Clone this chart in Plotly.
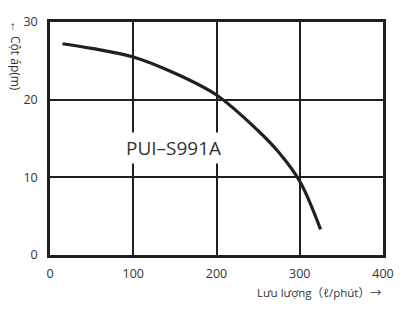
import plotly.graph_objects as go

flow = [15, 50, 100, 150, 200, 250, 275, 300, 325]
head = [27.2, 26.6, 25.5, 23.4, 20.6, 16.0, 13.2, 9.5, 3.3]
x_ticks = [0, 100, 200, 300, 400]
y_ticks = [0, 10, 20, 30]
model = "PUI–S991A"
x_title = "Lưu lượng（ℓ/phút）→"
y_title = "← Cột áp(m)"

ink = "#231f20"
W, H = 415, 312
L, R, T, B = 50, 32, 22, 56.5
pw, ph = W - L - R, H - T - B

fig = go.Figure()
fig.add_trace(go.Scatter(x=flow, y=head, mode="lines",
                         line=dict(color=ink, width=3.2, shape="spline", smoothing=1.0),
                         hoverinfo="skip", showlegend=False))

fig.add_annotation(x=148, y=13.8, xref="x", yref="y", text=model, showarrow=False,
                   xanchor="center", yanchor="middle",
                   font=dict(family="Open Sans", size=19, color="#333333"),
                   bgcolor="white", borderpad=2)
fig.add_annotation(xref="paper", x=(384 - L) / pw, yref="paper", y=-(293 - (H - B)) / ph,
                   text=x_title, showarrow=False, xanchor="right", yanchor="middle",
                   font=dict(family="Open Sans, Noto Sans CJK JP", size=11.5, color="#333333"))
fig.add_annotation(xref="paper", x=(15 - L) / pw, yref="paper", y=((H - B) - 56) / ph,
                   text=y_title, showarrow=False, textangle=90, xanchor="center", yanchor="middle",
                   font=dict(family="Open Sans", size=12, color="#333333"))

fig.update_layout(
    width=W, height=H,
    margin=dict(l=L, r=R, t=T, b=B),
    paper_bgcolor="white", plot_bgcolor="white",
    font=dict(family="Open Sans", size=12.5, color="#333333"),
    xaxis=dict(range=[0, 400], tickvals=x_ticks, showgrid=True, gridcolor=ink, gridwidth=2,
               zeroline=False, showline=True, linecolor=ink, linewidth=2.5, mirror=True,
               ticks="", ticklabelstandoff=5, fixedrange=True),
    yaxis=dict(range=[0, 30], tickvals=y_ticks, showgrid=True, gridcolor=ink, gridwidth=2,
               zeroline=False, showline=True, linecolor=ink, linewidth=2.5, mirror=True,
               ticks="", ticklabelstandoff=7, fixedrange=True),
)
fig.write_html("out.html")
